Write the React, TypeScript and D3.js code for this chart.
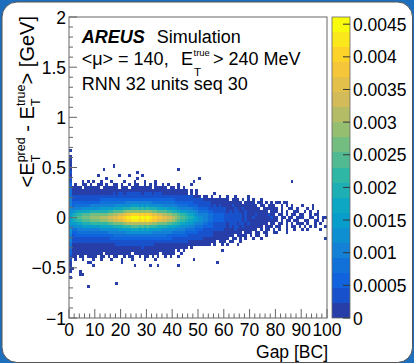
import React from "react";
import * as d3 from "d3";

// ---------- data ----------
const xDomain = [0, 100];
const yDomain = [-1, 2];
const zMax = 0.00461;
const nLevels = 20;
const xBinWidth = 1;
const yBinWidth = 0.03;
const topBinIndex = 55; // first row = bin index j, lower edge -1 + j*0.03

const xTicks = [0, 10, 20, 30, 40, 50, 60, 70, 80, 90, 100];
const xTickLabels = ["0", "10", "20", "30", "40", "50", "60", "70", "80", "90", "100"];
const yTicks = [-1, -0.5, 0, 0.5, 1, 1.5, 2];
const yTickLabels = ["\u22121", "\u22120.5", "0", "0.5", "1", "1.5", "2"];
const zTicks = [0, 0.0005, 0.001, 0.0015, 0.002, 0.0025, 0.003, 0.0035, 0.004, 0.0045];
const zTickLabels = ["0", "0.0005", "0.001", "0.0015", "0.002", "0.0025", "0.003", "0.0035", "0.004", "0.0045"];

const birdStops = [0.0, 0.125, 0.25, 0.375, 0.5, 0.625, 0.75, 0.875, 1.0];
const birdR = [0.2082, 0.0592, 0.078, 0.0232, 0.1802, 0.5301, 0.8186, 0.9956, 0.9764];
const birdG = [0.1664, 0.3599, 0.5041, 0.6419, 0.7178, 0.7492, 0.7328, 0.7862, 0.9832];
const birdB = [0.5293, 0.8684, 0.8385, 0.7914, 0.6425, 0.4662, 0.3499, 0.1968, 0.0539];

// colour level per cell ('.' = empty, 0-9 then a-j = 10-19), rows from top (bin 55) downward, 100 gap columns
const levelChars = "0123456789abcdefghij";
const heatRows = [
  "0.........",
  "..........",
  "0.........",
  "0.........",
  "0.........",
  "0......... .......0..",
  "0......... ...0...... .......... .......... ..0.......",
  "1......... .......... ......0...",
  "0......... .0.......0 ...0....0.",
  "1......... ....0..... ......0... .......... .......... 0.........",
  "1....0.0.0 ..0...0... .0...0...0 ...0...... ........0. .......... .......... .......... ......0...",
  "2.0..00.0. .00.0..00. 0..0.00..0 .0.0..0.0. ..0....0..",
  "20000.0000 00.000000. 000.000000 00.00000.0 0.0.0.....",
  "3000000000 0000000000 0000000000 0000000000 000000.0.0",
  "3000000000 0000000101 1011111101 1101110000 000000.0.0 ......0...",
  "3111111111 1111111111 1111111111 1111111111 1111111100 0.00.0..0. .0..0....0",
  "4111111111 1122222222 2222222222 2222222222 2111111111 1100000000 00.000.0.0 .0..0.....",
  "4222222222 2233333333 3344444444 4433333333 3222222211 1111100000 0000000.00 00.00.0.0. 00.00.....",
  "4233333344 4444444455 5555666565 6555554444 4433332222 1111101010 0001000000 000.00.000 ..0.0.0... 0...0.....",
  "5444455555 5566666777 7888999898 9888777766 6554444433 2222111111 1000100100 0000.00000 0.0..00.0. ..0.0.....",
  "5567777788 8888899aaa abcccccccc ccbbaaaa99 8876665554 3333221111 1010110010 0000000.00 0.0.0..00. .0.0..0...",
  "67899aaabb bbbbbccdde efgghhhghg hgffeeddcc bba9987765 4444332222 1111111010 0010000100 .00.0.00.0 0..0.00...",
  "689aabbbcc ccdddeeffg ghiijjjiji jihhggffee dcbaa98876 5544332222 1111111010 0100000010 0.00.00.00 0..00.0.00",
  "67899aaabb bbcccddeef fghhiiihih ihggffeedd cba9987766 5544332222 1111111010 0000000000 0.0.00.00. .00..00.0.",
  "6667788899 99999aabbb bcdddddddd ddccbbbbaa 9987766654 4433221111 1011101101 0000000.00 .00.0.0.00 0.0..0.0..",
  "5455566666 6677777888 8999aaa9a9 a999888877 7665554443 3322221111 1010110100 00000.000. 00..0.00.0 .0.0.0...0",
  "5334444444 4455555556 6666777676 7666665555 5444433332 2211111111 0000100000 000.0.00.0 .0..0..0.. 0.0....0..",
  "5223333333 3333344444 4455555555 5544444444 3333322222 1111110000 0000000.00 0.00.00..0 0...0.....",
  "4122222222 2222222333 3333333333 3333333322 2222221111 1111110000 0000.0000. 0.00..0...",
  "4111111111 1111112222 2222222222 2222222222 1111111111 1100000000 00.00.0.0. .0..0..... .......... .........0",
  "4111111111 1111111111 1111111111 1111111111 1111110000 0000000.00 0.00..0...",
  "3000000000 0000000011 1111111111 1110000000 0000000000 00000.0..0 .0...0....",
  "3000000000 0000000000 0000000010 0000000000 000000.0..",
  "2000000000 0000000000 0000000000 0000000000 0.0.0..... .........0",
  "2000000000 000.000000 0000.00000 00000.0000 0..0......",
  "100.00.000 0.00.0.00. .0.00..0.0 0.0.0..0.0 ..0.......",
  "1.0..0...0 ..0...0... 0...0....0 ...0...... ........0.",
  "0......00. .......... 0......... .......... .......... .......0..",
  "0........0 .......... .....0.... .0..0..... ..0.......",
  "00........",
  "0...0.....",
  "....00....",
  "0.........",
  "..........",
  ".......... ........0.",
  ".......0..",
];

// ---------- layout ----------
const W = 414;
const H = 363;
const frame = { left: 69, right: 327, top: 17, bottom: 318 };
const bar = { left: 332, right: 350 };
const FONT = "'Liberation Sans', Arial, Helvetica, sans-serif";

export default function App() {
  const x = d3.scaleLinear().domain(xDomain).range([frame.left, frame.right]);
  const y = d3.scaleLinear().domain(yDomain).range([frame.bottom, frame.top]);
  const z = d3.scaleLinear().domain([0, zMax]).range([frame.bottom, frame.top]);

  const bird = d3
    .scaleLinear<string>()
    .domain(birdStops)
    .range(birdStops.map((_, i) => d3.rgb(birdR[i] * 255, birdG[i] * 255, birdB[i] * 255).toString()))
    .interpolate(d3.interpolateRgb);
  const step = zMax / nLevels;
  const colorOf = (v: number) => {
    const lvl = Math.min(nLevels - 1, Math.floor(v / step));
    return bird(Math.min(1, Math.floor(((lvl + 0.99) * 255) / nLevels) / 254));
  };

  const cells: { k: number; j: number; v: number }[] = [];
  heatRows.forEach((row, i) => {
    const s = row.replace(/ /g, "");
    const j = topBinIndex - i;
    for (let k = 0; k < s.length; k++) {
      const c = s[k];
      if (c === ".") continue;
      const L = levelChars.indexOf(c);
      cells.push({ k, j, v: (L + 0.5) * step });
    }
  });

  const xMinor = d3.range(0, 100.001, 2).filter((v) => Math.abs(v % 10) > 1e-6);
  const yMinor = d3.range(-1, 2.0001, 0.1).filter((v) => Math.abs(Math.round(v * 10) % 5) !== 0);
  const levels = d3.range(nLevels);

  return (
    <svg
      width={W}
      height={H}
      style={{ position: "absolute", left: 0, top: 0 }}
      fontFamily={FONT}
    >
      <rect x={0} y={0} width={W} height={H} fill="#1e6ebe" />
      <rect x={2} y={2} width={W - 3.5} height={H - 2.5} rx={15} fill="#ffffff" stroke="#555" strokeWidth={1} />

      {/* heat map cells */}
      <g shapeRendering="crispEdges">
        {cells.map((c, i) => {
          const yLow = -1 + c.j * yBinWidth;
          return (
            <rect
              key={i}
              x={x(c.k * xBinWidth)}
              y={y(yLow + yBinWidth)}
              width={x((c.k + 1) * xBinWidth) - x(c.k * xBinWidth)}
              height={y(yLow) - y(yLow + yBinWidth)}
              fill={colorOf(c.v)}
            />
          );
        })}
      </g>

      {/* frame */}
      <rect
        x={frame.left}
        y={frame.top}
        width={frame.right - frame.left}
        height={frame.bottom - frame.top}
        fill="none"
        stroke="#666"
        strokeWidth={1}
      />

      {/* ticks */}
      <g stroke="#666" strokeWidth={1}>
        {xTicks.map((t) => (
          <line key={"xm" + t} x1={x(t)} x2={x(t)} y1={frame.bottom} y2={frame.bottom - 9} />
        ))}
        {xMinor.map((t) => (
          <line key={"xn" + t} x1={x(t)} x2={x(t)} y1={frame.bottom} y2={frame.bottom - 4.5} />
        ))}
        {yTicks.map((t) => (
          <line key={"ym" + t} x1={frame.left} x2={frame.left + 8} y1={y(t)} y2={y(t)} />
        ))}
        {yMinor.map((t) => (
          <line key={"yn" + t.toFixed(2)} x1={frame.left} x2={frame.left + 4} y1={y(t)} y2={y(t)} />
        ))}
      </g>

      {/* x tick labels */}
      <g fontSize={17.5} textAnchor="middle" fill="#000">
        {xTicks.map((t, i) => (
          <text key={"xl" + t} x={x(t)} y={336}>
            {xTickLabels[i]}
          </text>
        ))}
      </g>
      {/* y tick labels */}
      <g fontSize={17.5} textAnchor="end" fill="#000">
        {yTicks.map((t, i) => (
          <text key={"yl" + t} x={66} y={y(t) + 6.5}>
            {yTickLabels[i]}
          </text>
        ))}
      </g>

      {/* colour bar */}
      <g shapeRendering="crispEdges">
        {levels.map((i) => (
          <rect
            key={"cb" + i}
            x={bar.left}
            y={z((i + 1) * step)}
            width={bar.right - bar.left}
            height={z(i * step) - z((i + 1) * step)}
            fill={colorOf((i + 0.5) * step)}
          />
        ))}
      </g>
      <rect
        x={bar.left}
        y={frame.top}
        width={bar.right - bar.left}
        height={frame.bottom - frame.top}
        fill="none"
        stroke="#666"
        strokeWidth={0.8}
      />
      <g stroke="#333" strokeWidth={1}>
        {zTicks.map((t) => (
          <line key={"zt" + t} x1={bar.right} x2={bar.right - 7} y1={z(t)} y2={z(t)} />
        ))}
      </g>
      <g fontSize={17.5} fill="#000">
        {zTicks.map((t, i) => (
          <text key={"zl" + t} x={353} y={z(t) + 6.5}>
            {zTickLabels[i]}
          </text>
        ))}
      </g>

      {/* axis titles */}
      <text x={328} y={358} fontSize={17.5} textAnchor="end">
        Gap [BC]
      </text>
      <g transform="translate(33.5,16) rotate(-90)">
        <text x={0} y={0} fontSize={20} textAnchor="end">
          <tspan>{"<E"}</tspan>
          <tspan dy={-9} fontSize={12.5}>pred</tspan>
          <tspan dx={-25} dy={15} fontSize={12.5}>T</tspan>
          <tspan dx={17.5} dy={-6}>{"\u00A0-\u00A0E"}</tspan>
          <tspan dy={-9} fontSize={12.5}>true</tspan>
          <tspan dx={-21.5} dy={15} fontSize={12.5}>T</tspan>
          <tspan dx={14} dy={-6}>{">\u00A0[GeV]"}</tspan>
        </text>
      </g>

      {/* label block */}
      <text x={81.7} y={43.3} fontSize={18}>
        <tspan fontWeight="bold" fontStyle="italic">AREUS</tspan>
        <tspan dx={12}>Simulation</tspan>
      </text>
      <text x={81.7} y={65} fontSize={18}>
        {"<\u03BC> = 140,"}
      </text>
      <text x={181} y={65} fontSize={18}>
        E
      </text>
      <text x={193.5} y={56} fontSize={9.5}>
        true
      </text>
      <text x={194} y={76} fontSize={11.5}>
        T
      </text>
      <text x={213} y={65} fontSize={18}>
        {"> 240 MeV"}
      </text>
      <text x={81.7} y={90} fontSize={18}>
        RNN 32 units seq 30
      </text>
    </svg>
  );
}
